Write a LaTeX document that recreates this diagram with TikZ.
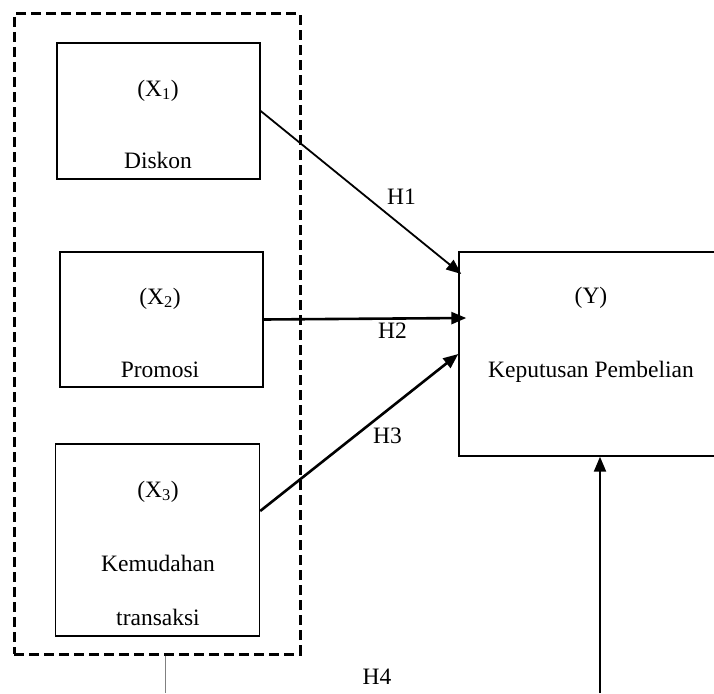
\documentclass[tikz,border=0pt]{standalone}
\usepackage{fontspec}
\setmainfont{Liberation Serif}
\usetikzlibrary{arrows.meta,positioning,calc}
\tikzset{box/.style={draw,line width=1.4pt,inner sep=0pt,minimum width=203pt},flow/.style={-{Triangle[length=15pt,width=12pt]},line width=2.2pt},lbl/.style={anchor=base,inner sep=0pt,font=\fontsize{23.5}{28}\selectfont}}

\begin{document}
\begin{tikzpicture}[x=1pt,y=-1pt]
\useasboundingbox (0,0) rectangle (714,693);
\clip (0,0) rectangle (714,693);
\node[draw,line width=3pt,dash pattern=on 10pt off 5pt,minimum width=286pt,minimum height=640pt] (grp) at (157,334) {};
\node[box,minimum height=136pt] (x1) at (158.5,111) {};
\node[box,minimum height=135pt] (x2) at (161.5,319.5) {};
\node[box,minimum width=204pt,minimum height=192pt] (x3) at (157.5,540) {};
\node[box,minimum width=264pt,minimum height=204pt] (yb) at (591,354) {};
\node[lbl] (tx1) at (158,96) {(X\textsubscript{1})};
\node[lbl] (nx1) at (158,168) {Diskon};
\node[lbl] (tx2) at (160,304) {(X\textsubscript{2})};
\node[lbl] (nx2) at (160,377) {Promosi};
\node[lbl] (tx3) at (158,497) {(X\textsubscript{3})};
\node[lbl] (nx3) at (158,571) {Kemudahan};
\node[lbl] (mx3) at (158,625) {transaksi};
\node[lbl] (ty) at (591,303) {(Y)};
\node[lbl] (ny) at (591,377) {Keputusan Pembelian};
\node[lbl] (h1) at (401.5,204) {H1};
\node[lbl] (h2) at (392.5,338) {H2};
\node[lbl] (h3) at (387.5,443) {H3};
\node[lbl] (h4) at (377,684) {H4};
\coordinate (gend) at (165,693);
\coordinate (yend) at (600,693);
\draw[flow,line width=1.8pt] (x1.east) -- ($(yb.west)+(3,-80)$);
\draw[flow,line width=2.6pt] (x2.east) -- ($(yb.west)+(8,-36)$);
\draw[flow,line width=2.6pt] ($(x3.east)+(0,-29)$) -- (yb.west);
\draw[flow] (yend) -- (yend |- yb.south);
\draw[gray,line width=1pt] (grp.south -| gend) -- (gend);
\end{tikzpicture}
\end{document}
